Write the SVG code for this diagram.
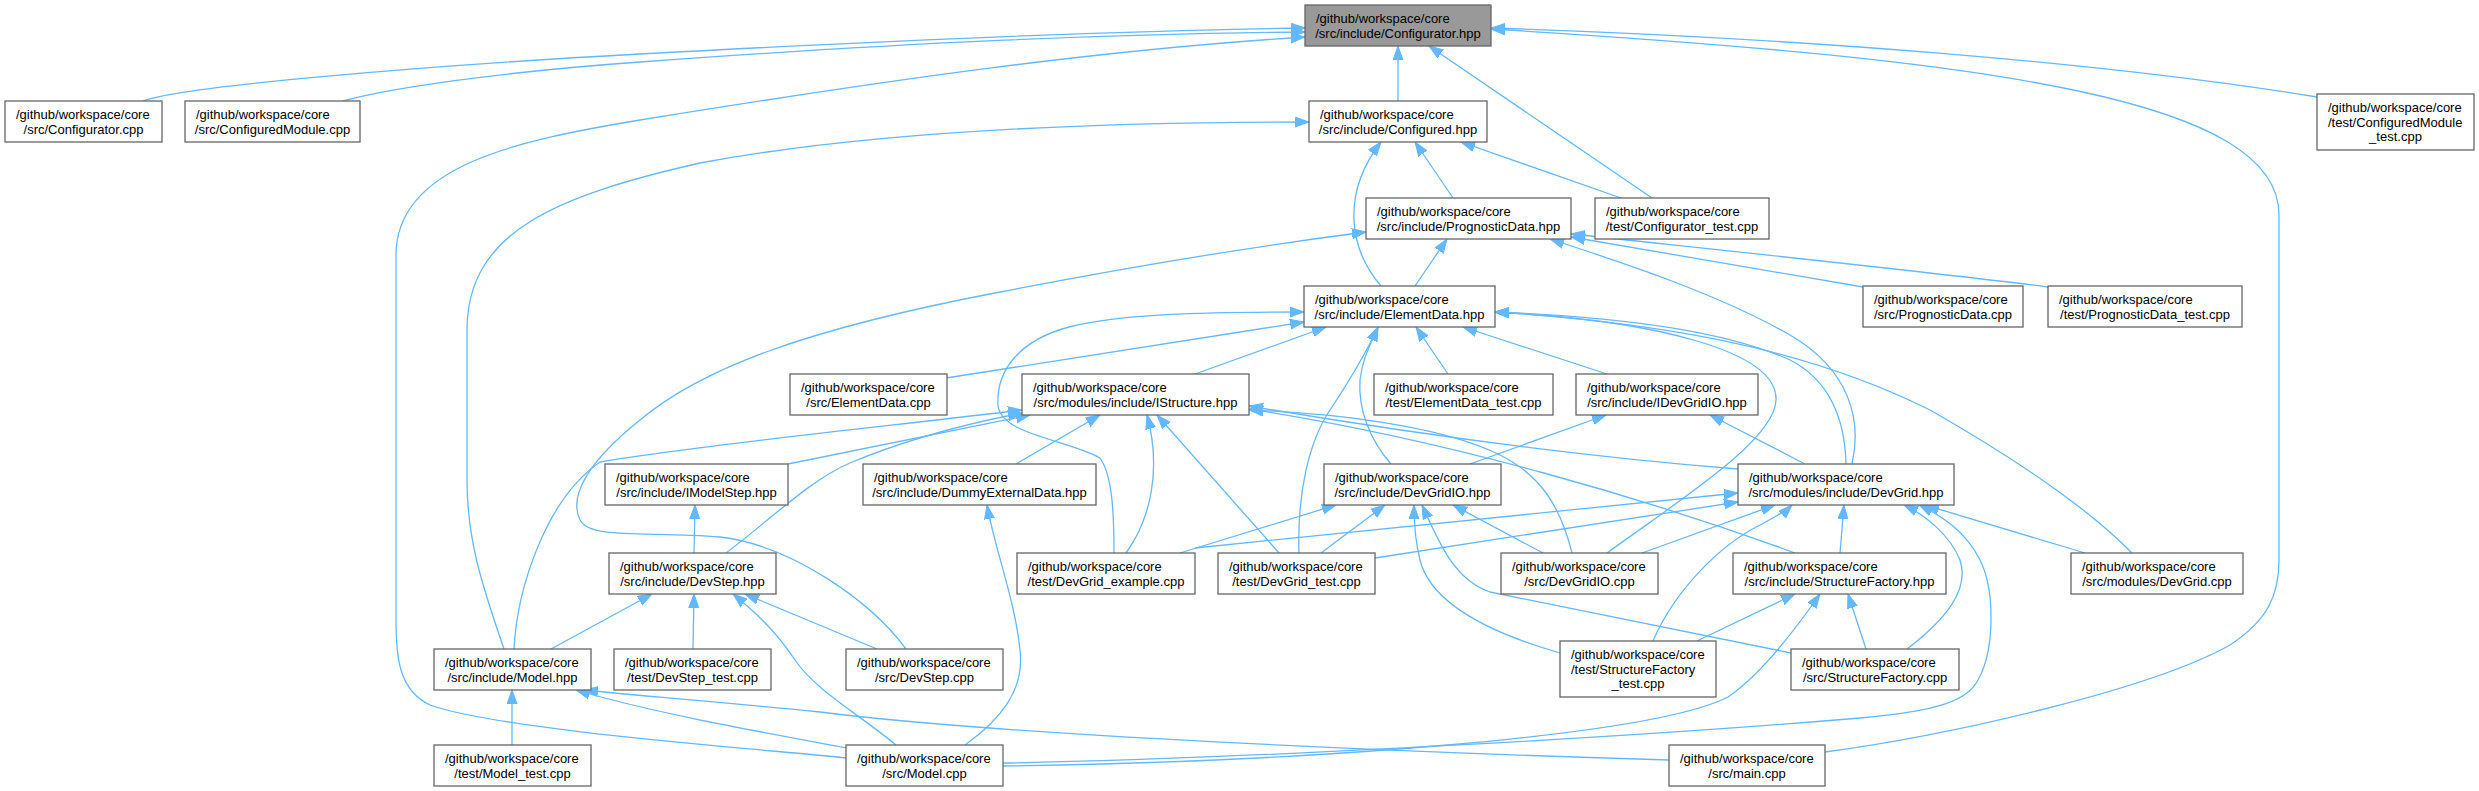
<svg xmlns="http://www.w3.org/2000/svg" width="2479" height="791" viewBox="0 0 2479 791">
<defs>
<marker id="a" markerWidth="16" markerHeight="12" refX="14" refY="5.5" orient="auto" markerUnits="userSpaceOnUse"><path d="M0,0.5 L14,5.5 L0,10.5 Z" fill="#63b8ff" stroke="#63b8ff" stroke-width="1"/></marker>
<style>
.n rect{fill:#ffffff;stroke:#666666;stroke-width:1.3}
.n.g rect{fill:#999999}
.n text{font-family:'Liberation Sans',Arial,Helvetica,sans-serif;font-size:13px;fill:#000000}
.m{text-anchor:middle}
#edges path{fill:none;stroke:#63b8ff;stroke-width:1.3;marker-end:url(#a)}
</style>
</defs>
<rect width="2479" height="791" fill="#ffffff"/>
<g id="edges">
<path d="M143,101 C185,86 420,66 640,54 C860,42 1100,31 1305,28"/>
<path d="M343,101 C390,88 500,72 640,62 C900,43 1100,34 1305,32"/>
<path d="M847,758 C750,748 500,730 430,705 C398,690 396,655 396,620 L396,255 C396,165 520,140 640,120 C900,78 1100,50 1305,37"/>
<path d="M1398,101 L1398,46"/>
<path d="M1652,198 L1429,46"/>
<path d="M2317,97 C2100,62 1800,38 1491,28"/>
<path d="M1825,752 C1950,735 2150,690 2230,645 C2268,620 2279,595 2279,560 L2279,215 C2279,100 2000,60 1491,29"/>
<path d="M1453,198 L1415,142"/>
<path d="M1621,198 L1461,142"/>
<path d="M1381,286 C1350,250 1340,195 1381,142"/>
<path d="M504,649 C482,585 467,540 467,480 L467,330 C467,230 560,195 700,163 C850,135 1050,122 1309,122"/>
<path d="M1415,286 L1447,239"/>
<path d="M1863,287 L1571,237"/>
<path d="M2048,287 C1950,274 1700,248 1571,234"/>
<path d="M906,649 C870,600 790,545 720,537 C650,531 590,540 580,520 C568,495 590,460 640,420 C700,370 800,330 1000,292 C1150,263 1280,243 1366,232"/>
<path d="M1852,464 C1862,420 1850,370 1790,335 C1720,295 1630,265 1550,239"/>
<path d="M1114,553 C1114,510 1112,475 1100,458 C1070,440 1000,435 998,405 C996,370 1020,340 1069,327 C1120,314 1200,312 1304,312"/>
<path d="M946,378 L1304,322"/>
<path d="M1195,374 L1326,327"/>
<path d="M1299,553 C1297,490 1310,440 1330,410 C1350,380 1365,355 1378,327"/>
<path d="M1391,464 C1370,440 1358,410 1360,380 C1362,360 1370,345 1378,327"/>
<path d="M1448,374 L1416,327"/>
<path d="M1607,374 L1463,327"/>
<path d="M1607,553 C1680,500 1775,440 1776,400 C1778,350 1650,320 1495,312"/>
<path d="M1846,464 C1845,420 1830,380 1790,360 C1720,328 1600,316 1495,312"/>
<path d="M2132,553 C2080,500 2000,450 1930,410 C1800,345 1650,322 1495,312"/>
<path d="M514,649 C517,590 545,500 600,462 C700,445 900,425 1022,410"/>
<path d="M788,464 L1030,415"/>
<path d="M726,553 C770,520 810,480 850,463 C900,442 960,425 1022,413"/>
<path d="M1016,464 L1100,415"/>
<path d="M1126,553 C1150,520 1162,470 1147,415"/>
<path d="M1279,553 L1157,415"/>
<path d="M1738,469 C1600,458 1450,440 1249,406"/>
<path d="M1795,553 C1650,500 1450,440 1249,409"/>
<path d="M1572,553 C1560,505 1540,475 1500,455 C1440,425 1330,413 1249,410"/>
<path d="M1470,464 L1606,415"/>
<path d="M1805,464 L1710,415"/>
<path d="M694,553 L695,505"/>
<path d="M965,745 C1000,720 1025,690 1020,650 C1015,600 995,550 987,505"/>
<path d="M1180,553 L1336,505"/>
<path d="M1321,553 L1385,505"/>
<path d="M1543,553 L1453,505"/>
<path d="M1560,653 C1480,630 1430,600 1420,560 C1415,540 1414,525 1414,505"/>
<path d="M1791,653 C1650,625 1530,600 1490,592 C1455,580 1440,545 1422,505"/>
<path d="M1195,548 L1738,493"/>
<path d="M1375,558 L1738,502"/>
<path d="M1642,553 L1775,505"/>
<path d="M1840,553 L1844,505"/>
<path d="M1653,641 C1675,590 1720,545 1760,525 C1775,517 1785,512 1792,505"/>
<path d="M1907,649 C1945,620 1970,590 1960,560 C1950,535 1925,515 1904,505"/>
<path d="M1003,763 C1200,760 1600,740 1860,718 C1940,711 1968,700 1978,680 C1995,650 1995,590 1980,560 C1965,530 1940,515 1919,505"/>
<path d="M2085,553 L1925,505"/>
<path d="M551,649 L652,594"/>
<path d="M693,649 L694,594"/>
<path d="M877,649 L745,594"/>
<path d="M896,745 C860,715 815,690 795,660 C775,630 755,612 733,594"/>
<path d="M1697,641 L1795,594"/>
<path d="M1866,649 L1848,594"/>
<path d="M1003,766 C1300,762 1650,737 1728,697 C1760,675 1795,630 1820,594"/>
<path d="M512,745 L512,690"/>
<path d="M847,748 C750,730 650,712 576,690"/>
<path d="M1669,760 C1400,752 1000,735 820,712 C700,700 630,695 584,690"/>
</g>
<g id="n1" class="n g"><rect x="1305" y="5" width="186" height="41"/><text x="1316" y="23">/github/workspace/core</text><text class="m" x="1398" y="37.5">/src/include/Configurator.hpp</text></g>
<g id="n2" class="n"><rect x="5" y="101" width="157" height="41"/><text x="16" y="119">/github/workspace/core</text><text class="m" x="83.5" y="133.5">/src/Configurator.cpp</text></g>
<g id="n3" class="n"><rect x="185" y="101" width="175" height="41"/><text x="196" y="119">/github/workspace/core</text><text class="m" x="272.5" y="133.5">/src/ConfiguredModule.cpp</text></g>
<g id="n4" class="n"><rect x="1309" y="101" width="178" height="41"/><text x="1320" y="119">/github/workspace/core</text><text class="m" x="1398" y="133.5">/src/include/Configured.hpp</text></g>
<g id="n5" class="n"><rect x="2317" y="94" width="157" height="56"/><text x="2328" y="112">/github/workspace/core</text><text x="2328" y="126.5">/test/ConfiguredModule</text><text class="m" x="2395.5" y="141">_test.cpp</text></g>
<g id="n6" class="n"><rect x="1366" y="198" width="205" height="41"/><text x="1377" y="216">/github/workspace/core</text><text class="m" x="1468.5" y="230.5">/src/include/PrognosticData.hpp</text></g>
<g id="n7" class="n"><rect x="1595" y="198" width="174" height="41"/><text x="1606" y="216">/github/workspace/core</text><text class="m" x="1682" y="230.5">/test/Configurator_test.cpp</text></g>
<g id="n8" class="n"><rect x="1304" y="286" width="191" height="41"/><text x="1315" y="304">/github/workspace/core</text><text class="m" x="1399.5" y="318.5">/src/include/ElementData.hpp</text></g>
<g id="n9" class="n"><rect x="1863" y="286" width="160" height="41"/><text x="1874" y="304">/github/workspace/core</text><text class="m" x="1943" y="318.5">/src/PrognosticData.cpp</text></g>
<g id="n10" class="n"><rect x="2048" y="286" width="194" height="41"/><text x="2059" y="304">/github/workspace/core</text><text class="m" x="2145" y="318.5">/test/PrognosticData_test.cpp</text></g>
<g id="n11" class="n"><rect x="790" y="374" width="157" height="41"/><text x="801" y="392">/github/workspace/core</text><text class="m" x="868.5" y="406.5">/src/ElementData.cpp</text></g>
<g id="n12" class="n"><rect x="1022" y="374" width="227" height="41"/><text x="1033" y="392">/github/workspace/core</text><text class="m" x="1135.5" y="406.5">/src/modules/include/IStructure.hpp</text></g>
<g id="n13" class="n"><rect x="1374" y="374" width="179" height="41"/><text x="1385" y="392">/github/workspace/core</text><text class="m" x="1463.5" y="406.5">/test/ElementData_test.cpp</text></g>
<g id="n14" class="n"><rect x="1576" y="374" width="182" height="41"/><text x="1587" y="392">/github/workspace/core</text><text class="m" x="1667" y="406.5">/src/include/IDevGridIO.hpp</text></g>
<g id="n15" class="n"><rect x="605" y="464" width="183" height="41"/><text x="616" y="482">/github/workspace/core</text><text class="m" x="696.5" y="496.5">/src/include/IModelStep.hpp</text></g>
<g id="n16" class="n"><rect x="863" y="464" width="233" height="41"/><text x="874" y="482">/github/workspace/core</text><text class="m" x="979.5" y="496.5">/src/include/DummyExternalData.hpp</text></g>
<g id="n17" class="n"><rect x="1324" y="464" width="177" height="41"/><text x="1335" y="482">/github/workspace/core</text><text class="m" x="1412.5" y="496.5">/src/include/DevGridIO.hpp</text></g>
<g id="n18" class="n"><rect x="1738" y="464" width="216" height="41"/><text x="1749" y="482">/github/workspace/core</text><text class="m" x="1846" y="496.5">/src/modules/include/DevGrid.hpp</text></g>
<g id="n19" class="n"><rect x="609" y="553" width="167" height="41"/><text x="620" y="571">/github/workspace/core</text><text class="m" x="692.5" y="585.5">/src/include/DevStep.hpp</text></g>
<g id="n20" class="n"><rect x="1017" y="553" width="178" height="41"/><text x="1028" y="571">/github/workspace/core</text><text class="m" x="1106" y="585.5">/test/DevGrid_example.cpp</text></g>
<g id="n21" class="n"><rect x="1218" y="553" width="157" height="41"/><text x="1229" y="571">/github/workspace/core</text><text class="m" x="1296.5" y="585.5">/test/DevGrid_test.cpp</text></g>
<g id="n22" class="n"><rect x="1501" y="553" width="157" height="41"/><text x="1512" y="571">/github/workspace/core</text><text class="m" x="1579.5" y="585.5">/src/DevGridIO.cpp</text></g>
<g id="n23" class="n"><rect x="1733" y="553" width="213" height="41"/><text x="1744" y="571">/github/workspace/core</text><text class="m" x="1839.5" y="585.5">/src/include/StructureFactory.hpp</text></g>
<g id="n24" class="n"><rect x="2071" y="553" width="172" height="41"/><text x="2082" y="571">/github/workspace/core</text><text class="m" x="2157" y="585.5">/src/modules/DevGrid.cpp</text></g>
<g id="n25" class="n"><rect x="434" y="649" width="157" height="41"/><text x="445" y="667">/github/workspace/core</text><text class="m" x="512.5" y="681.5">/src/include/Model.hpp</text></g>
<g id="n26" class="n"><rect x="614" y="649" width="157" height="41"/><text x="625" y="667">/github/workspace/core</text><text class="m" x="692.5" y="681.5">/test/DevStep_test.cpp</text></g>
<g id="n27" class="n"><rect x="846" y="649" width="157" height="41"/><text x="857" y="667">/github/workspace/core</text><text class="m" x="924.5" y="681.5">/src/DevStep.cpp</text></g>
<g id="n28" class="n"><rect x="1560" y="641" width="156" height="56"/><text x="1571" y="659">/github/workspace/core</text><text x="1571" y="673.5">/test/StructureFactory</text><text class="m" x="1638" y="688">_test.cpp</text></g>
<g id="n29" class="n"><rect x="1791" y="649" width="168" height="41"/><text x="1802" y="667">/github/workspace/core</text><text class="m" x="1875" y="681.5">/src/StructureFactory.cpp</text></g>
<g id="n30" class="n"><rect x="434" y="745" width="157" height="41"/><text x="445" y="763">/github/workspace/core</text><text class="m" x="512.5" y="777.5">/test/Model_test.cpp</text></g>
<g id="n31" class="n"><rect x="846" y="745" width="157" height="41"/><text x="857" y="763">/github/workspace/core</text><text class="m" x="924.5" y="777.5">/src/Model.cpp</text></g>
<g id="n32" class="n"><rect x="1669" y="745" width="156" height="41"/><text x="1680" y="763">/github/workspace/core</text><text class="m" x="1747" y="777.5">/src/main.cpp</text></g>
</svg>
